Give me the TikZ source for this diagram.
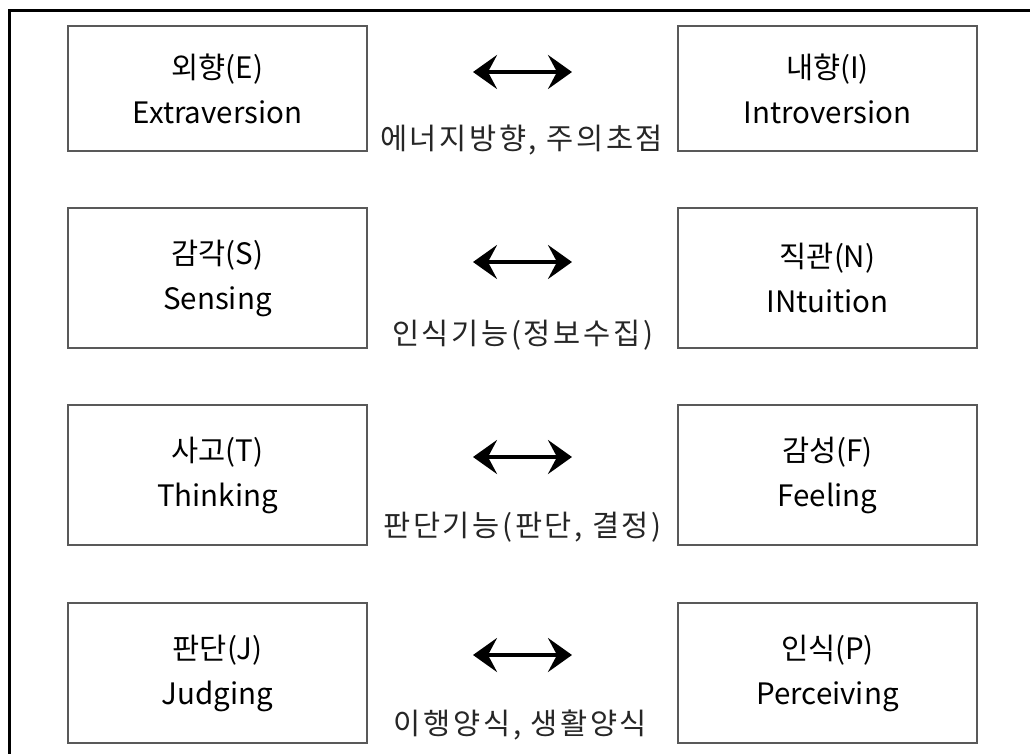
\documentclass[tikz,border=0pt]{standalone}
\usepackage{fontspec}
\setmainfont{Noto Sans CJK KR}
\newfontfamily\boxfont{Noto Sans CJK KR}
\newfontfamily\notefont[LetterSpace=9]{Noto Sans CJK KR}
\usetikzlibrary{arrows.meta}

\tikzset{
  typebox/.style={draw=black!65, line width=1.2pt, fill=white,
    minimum width=299pt, inner sep=0pt, align=center,
    font=\boxfont\fontsize{29.5}{45}\selectfont},
  pairnote/.style={inner sep=0pt, text=black!85,
    font=\notefont\fontsize{29.5}{30}\selectfont},
  pairarrow/.style={line width=4.5pt,
    {Stealth[length=24pt,width=34pt,inset=9pt]}-{Stealth[length=24pt,width=34pt,inset=9pt]}},
  frameline/.style={line width=3pt, black}
}

\begin{document}
\begin{tikzpicture}[x=1pt,y=-1pt]
  \useasboundingbox (0,0) rectangle (1030,754);
  \fill[white] (0,0) rectangle (1030,754);

  % outer frame (runs past the right and bottom edges)
  \begin{scope}
    \clip (0,0) rectangle (1030,754);
    \draw[frameline] (9,800) -- (9,10.8) -- (1100,10.8);
  \end{scope}

  % row 1: energy direction
  \node[typebox, minimum height=125pt] (E) at (217.5,88.5) {외향(E)\\Extraversion};
  \node[typebox, minimum height=125pt] (I) at (827.5,88.5) {내향(I)\\Introversion};
  \coordinate (e1) at (473,72);
  \coordinate (i1) at (572,72);
  \draw[pairarrow] (e1) -- (i1);
  \node[pairnote] (n1) at (521.5,140) {에너지방향, 주의초점};

  % row 2: perceiving function
  \node[typebox, minimum height=140pt] (S) at (217.5,278) {감각(S)\\Sensing};
  \node[typebox, minimum height=140pt] (N) at (827.5,278) {직관(N)\\INtuition};
  \coordinate (s1) at (473,262);
  \coordinate (n2) at (572,262);
  \draw[pairarrow] (s1) -- (n2);
  \node[pairnote] (n2t) at (522.5,335) {인식기능(정보수집)};

  % row 3: judging function
  \node[typebox, minimum height=140pt] (T) at (217.5,475) {사고(T)\\Thinking};
  \node[typebox, minimum height=140pt] (F) at (827.5,475) {감성(F)\\Feeling};
  \coordinate (t1) at (473,457);
  \coordinate (f1) at (572,457);
  \draw[pairarrow] (t1) -- (f1);
  \node[pairnote] (n3) at (522.5,527) {판단기능(판단, 결정)};

  % row 4: lifestyle
  \node[typebox, minimum height=140pt] (J) at (217.5,673) {판단(J)\\Judging};
  \node[typebox, minimum height=140pt] (P) at (827.5,673) {인식(P)\\Perceiving};
  \coordinate (j1) at (473,655);
  \coordinate (p1) at (572,655);
  \draw[pairarrow] (j1) -- (p1);
  \node[pairnote] (n4) at (520.5,725) {이행양식, 생활양식};
\end{tikzpicture}
\end{document}
